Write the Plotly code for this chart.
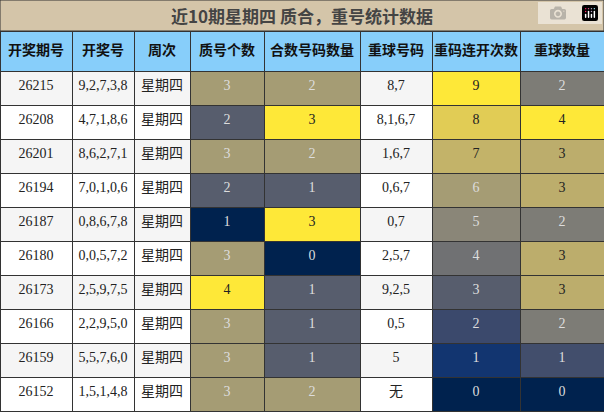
import plotly.graph_objects as go
from plotly.colors import sample_colorscale

headers = ["开奖期号", "开奖号", "周次", "质号个数", "合数号码数量", "重球号码", "重码连开次数", "重球数量"]
periods = ["26215", "26208", "26201", "26194", "26187", "26180", "26173", "26166", "26159", "26152"]
draws = ["9,2,7,3,8", "4,7,1,8,6", "8,6,2,7,1", "7,0,1,0,6", "0,8,6,7,8", "0,0,5,7,2", "2,5,9,7,5", "2,2,9,5,0", "5,5,7,6,0", "1,5,1,4,8"]
weekday = ["星期四"] * 10
primes = [3, 2, 3, 2, 1, 3, 4, 3, 3, 3]
composites = [2, 3, 2, 1, 3, 0, 1, 1, 1, 2]
repeat_nums = ["8,7", "8,1,6,7", "1,6,7", "0,6,7", "0,7", "2,5,7", "9,2,5", "0,5", "5", "无"]
streak = [9, 8, 7, 6, 5, 4, 3, 2, 1, 0]
repeat_count = [2, 4, 3, 3, 2, 3, 3, 2, 1, 0]

def colorize(vals, lo, hi):
    t = [(v - lo) / (hi - lo) for v in vals]
    fills = sample_colorscale("Cividis", t)
    fonts = ["#222222" if x >= 0.7 else "#dddddd" for x in t]
    return fills, fonts

plain = ["#f5f5f5" if i % 2 == 0 else "#ffffff" for i in range(10)]
cols = [(primes, 1, 4), (composites, 0, 3), (streak, 0, 9), (repeat_count, 0, 4)]
cf = {}
for k, (v, lo, hi) in zip(["p", "c", "s", "r"], cols):
    cf[k] = colorize(v, lo, hi)
fill = [plain, plain, plain, cf["p"][0], cf["c"][0], plain, cf["s"][0], cf["r"][0]]
fcol = [["#222"] * 10] * 3 + [cf["p"][1], cf["c"][1], ["#222"] * 10, cf["s"][1], cf["r"][1]]

fig = go.Figure(go.Table(
    columnwidth=[72, 62, 56, 74, 96, 72, 88, 84],
    header=dict(values=["<b>%s</b>" % h for h in headers], fill_color="#87cefa",
                line_color="#333333", height=40,
                font=dict(family="Noto Sans CJK SC", size=14, color="#111")),
    cells=dict(values=[periods, draws, weekday, primes, composites, repeat_nums, streak, repeat_count],
               fill_color=fill, line_color="#333333", height=34,
               font=dict(family="Liberation Serif, Noto Sans CJK SC", size=14, color=fcol)),
    domain=dict(x=[0, 1], y=[0, 1 - 31 / 413]),
))
fig.add_shape(type="rect", xref="paper", yref="paper", x0=0, x1=1, y0=1 - 31 / 413, y1=1,
              fillcolor="#d4c5a9", line=dict(color="#333333", width=1))
fig.add_annotation(text="<b>近10期星期四 质合，重号统计数据</b>", xref="paper", yref="paper",
                   x=0.5, y=1 - 15 / 413, yanchor="middle", xanchor="center", showarrow=False,
                   font=dict(family="Noto Sans CJK SC", size=17, color="#444"))
fig.update_layout(width=604, height=413, margin=dict(l=0, r=0, t=0, b=0), paper_bgcolor="white")
fig.write_html("out.html", post_script="document.body.style.margin='0';document.body.style.padding='0';")
